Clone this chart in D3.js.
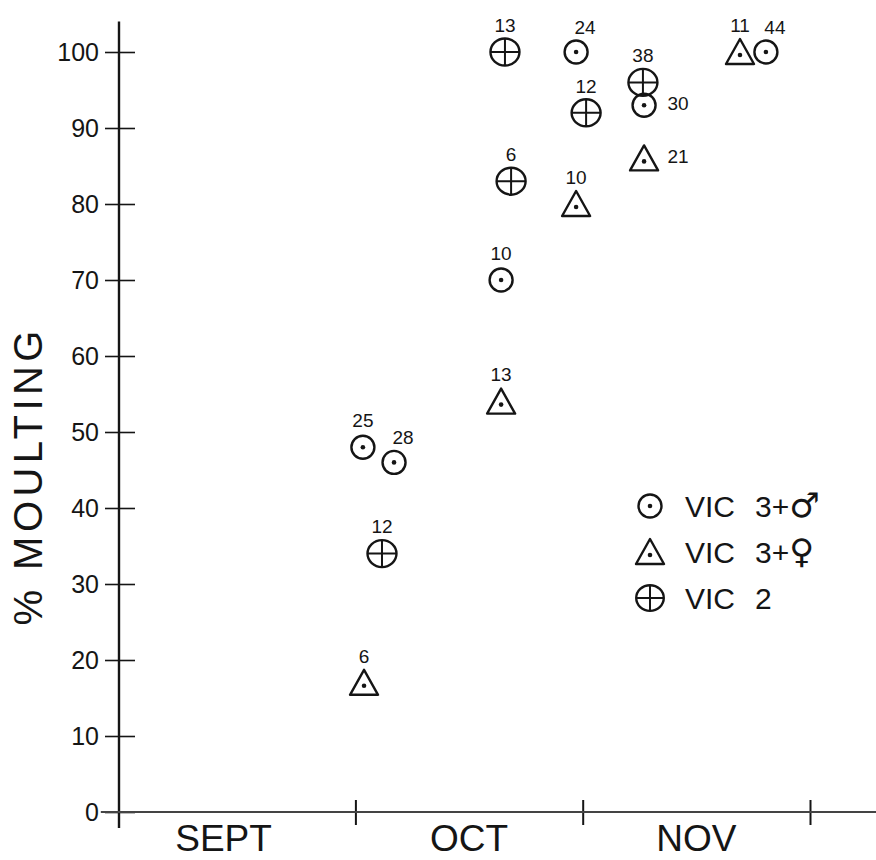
<!DOCTYPE html>
<html>
<head>
<meta charset="utf-8">
<script src="https://cdn.jsdelivr.net/npm/d3@7/dist/d3.min.js"></script>
<style>
    body { margin: 0; background: #fff; }
    svg { display: block; }
    text { fill: #151515; font-family: "Liberation Sans", "DejaVu Sans", sans-serif; }
</style>
</head>
<body>
<div id="chart"></div>
<script>
// x values are in months: 0 = start of Sept, 1 = start of Oct, 2 = start of Nov
var monthNames = ["SEPT", "OCT", "NOV"];
var monthLabelAt = [0.42, 1.5, 2.5];
var monthBounds = [1, 2, 3];
var yTicks = [0, 10, 20, 30, 40, 50, 60, 70, 80, 90, 100];

// VIC 3+ male
var maleX = [1.033, 1.170, 1.641, 1.971, 2.270, 2.806];
var maleY = [48, 46, 70, 100, 93, 100];
var maleN = [25, 28, 10, 24, 30, 44];
var maleLabelSide = ["top", "topright", "top", "topright", "right", "topright"];

// VIC 3+ female
var femaleX = [1.038, 1.641, 1.971, 2.270, 2.692];
var femaleY = [17, 54, 80, 86, 100];
var femaleN = [6, 13, 10, 21, 11];
var femaleLabelSide = ["top", "top", "top", "right", "top"];

// VIC 2
var vic2X = [1.117, 1.658, 1.685, 2.015, 2.265];
var vic2Y = [34, 100, 83, 92, 96];
var vic2N = [12, 13, 6, 12, 38];
var vic2LabelSide = ["top", "top", "top", "top", "top"];

var legendNames = ["VIC", "VIC", "VIC"];
var legendClass = ["3+", "3+", "2"];
var legendSex = ["♂", "♀", ""];

function buildSeries(shape, xs, ys, ns, sides) {
    return xs.map(function (xv, i) {
        return {shape: shape, x: xv, y: ys[i], n: ns[i], side: sides[i]};
    });
}

var points = []
    .concat(buildSeries("dot", maleX, maleY, maleN, maleLabelSide))
    .concat(buildSeries("tri", femaleX, femaleY, femaleN, femaleLabelSide))
    .concat(buildSeries("cross", vic2X, vic2Y, vic2N, vic2LabelSide));

var labelOffset = {
    top: {dx: 0, dy: -27},
    topright: {dx: 9, dy: -25},
    right: {dx: 34, dy: -2}
};

var ink = "#151515";
var width = 876, height = 860;

var x = d3.scaleLinear().domain([-0.04, 3]).range([119, 810]);
var y = d3.scaleLinear().domain([0, 100]).range([812, 52]);

var svg = d3.select("#chart").append("svg")
    .attr("width", width)
    .attr("height", height);

// y axis, ticks cross the line
var gy = svg.append("g")
    .attr("transform", "translate(" + x(-0.04) + ",0)")
    .call(d3.axisLeft(y).tickValues(yTicks).tickSize(14).tickPadding(6));
gy.select(".domain").remove();
gy.selectAll(".tick line").attr("x1", 16).attr("stroke", ink).attr("stroke-width", 1.6);
gy.selectAll(".tick text")
    .attr("font-size", 25)
    .style("font-family", "'Liberation Sans', sans-serif")
    .attr("fill", ink);
gy.append("line")
    .attr("y1", y(104))
    .attr("y2", y(-2.1))
    .attr("stroke", ink)
    .attr("stroke-width", 2.4);

// x axis
var gx = svg.append("g")
    .attr("transform", "translate(0," + y(0) + ")")
    .call(d3.axisBottom(x).tickValues(monthBounds).tickSize(13).tickFormat(""));
gx.select(".domain").remove();
gx.selectAll(".tick line").attr("y1", -12).attr("stroke", ink).attr("stroke-width", 2);
gx.append("line")
    .attr("x1", x(-0.12))
    .attr("x2", x(3.32))
    .attr("stroke", "#444")
    .attr("stroke-width", 1.8);

svg.append("g").selectAll("text")
    .data(monthNames)
    .join("text")
    .attr("x", function (d, i) { return x(monthLabelAt[i]); })
    .attr("y", y(0) + 39)
    .attr("text-anchor", "middle")
    .attr("font-size", 37)
    .style("font-family", "'Liberation Sans Narrow', 'Liberation Sans', sans-serif")
    .text(function (d) { return d; });

// y title
svg.append("text")
    .attr("transform", "translate(28," + 478 + ") rotate(-90)")
    .attr("dy", "0.36em")
    .attr("text-anchor", "middle")
    .attr("font-size", 40)
    .attr("textLength", 295)
    .attr("lengthAdjust", "spacing")
    .text("% MOULTING");

function drawMarker(g, shape, scale) {
    var s = scale || 1;
    if (shape === "dot") {
        g.append("circle").attr("r", 11.5 * s)
            .attr("fill", "none").attr("stroke", ink).attr("stroke-width", 2.4);
        g.append("circle").attr("r", 2.3).attr("fill", ink);
    } else if (shape === "tri") {
        var h = 13 * s, w = 14 * s;
        g.append("path")
            .attr("d", "M0," + (-h) + "L" + w + "," + (h - 1) + "L" + (-w) + "," + (h - 1) + "Z")
            .attr("fill", "none").attr("stroke", ink).attr("stroke-width", 2.4)
            .attr("stroke-linejoin", "round");
        g.append("circle").attr("cy", 3).attr("r", 2.3).attr("fill", ink);
    } else {
        var rx = 14.5 * s, ry = 13.5 * s;
        g.append("ellipse").attr("rx", rx).attr("ry", ry)
            .attr("fill", "none").attr("stroke", ink).attr("stroke-width", 2.4);
        g.append("path")
            .attr("d", "M" + (-rx) + ",0H" + rx + "M0," + (-ry) + "V" + ry)
            .attr("stroke", ink).attr("stroke-width", 2);
    }
}

var marks = svg.append("g").selectAll("g")
    .data(points)
    .join("g")
    .attr("transform", function (d) { return "translate(" + x(d.x) + "," + y(d.y) + ")"; });

marks.each(function (d) {
    drawMarker(d3.select(this), d.shape);
});

marks.append("text")
    .attr("x", function (d) { return labelOffset[d.side].dx; })
    .attr("y", function (d) { return labelOffset[d.side].dy; })
    .attr("dy", "0.36em")
    .attr("text-anchor", "middle")
    .attr("font-size", 19)
    .text(function (d) { return d.n; });

// legend
var legendShapes = ["dot", "tri", "cross"];
var legend = svg.append("g").attr("transform", "translate(650,506)");
var rows = legend.selectAll("g")
    .data(legendNames)
    .join("g")
    .attr("transform", function (d, i) { return "translate(0," + (i * 46) + ")"; });

rows.each(function (d, i) {
    drawMarker(d3.select(this), legendShapes[i], i === 2 ? 0.95 : 1);
});

rows.append("text")
    .attr("x", 35)
    .attr("dy", "0.36em")
    .attr("font-size", 30)
    .text(function (d) { return d; });

var classText = rows.append("text")
    .attr("x", 105)
    .attr("dy", "0.36em")
    .attr("font-size", 30);
classText.append("tspan")
    .text(function (d, i) { return legendClass[i]; });
classText.append("tspan")
    .style("font-family", "'DejaVu Sans', sans-serif")
    .attr("font-size", 34)
    .text(function (d, i) { return legendSex[i]; });
</script>
</body>
</html>
